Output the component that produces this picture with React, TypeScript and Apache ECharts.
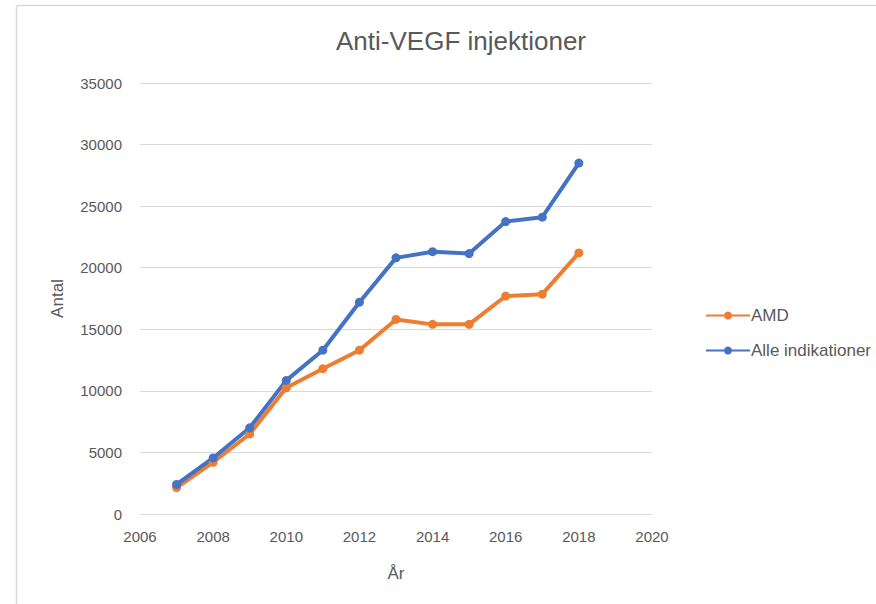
import React, { useEffect, useRef } from "react";
import * as echarts from "echarts";

const years = [2007, 2008, 2009, 2010, 2011, 2012, 2013, 2014, 2015, 2016, 2017, 2018];
const amd = [2150, 4200, 6500, 10250, 11800, 13300, 15800, 15400, 15400, 17700, 17850, 21200];
const alle = [2400, 4550, 7000, 10850, 13300, 17200, 20800, 21300, 21150, 23750, 24100, 28500];
const seriesNames = ["AMD", "Alle indikationer"];

const FONT = "'Liberation Sans Narrow', 'Liberation Sans', sans-serif";

export default function App() {
  const ref = useRef<HTMLDivElement>(null);
  useEffect(() => {
    if (!ref.current) return;
    const chart = echarts.init(ref.current, undefined, { renderer: "svg" });
    chart.setOption({
      animation: false,
      backgroundColor: "#ffffff",
      textStyle: { fontFamily: FONT },
      title: {
        text: "Anti-VEGF injektioner",
        left: 456,
        textAlign: "center",
        top: 23,
        textStyle: { fontFamily: FONT, fontSize: 26, fontWeight: "normal", color: "#595959" },
      },
      graphic: [
        { type: "line", shape: { x1: 16.5, y1: 5.5, x2: 876, y2: 5.5 }, style: { stroke: "#d9d9d9", lineWidth: 1.5 } },
        { type: "line", shape: { x1: 16.5, y1: 5.5, x2: 16.5, y2: 604 }, style: { stroke: "#d9d9d9", lineWidth: 1.5 } },
      ],
      legend: {
        orient: "vertical",
        left: 700,
        top: 302,
        itemWidth: 44,
        itemHeight: 10,
        itemGap: 18,
        data: seriesNames,
        textStyle: { fontFamily: FONT, fontSize: 17, color: "#595959", padding: [0, 0, 0, -4] },
      },
      grid: { left: 140, right: 224, top: 83, bottom: 90 },
      xAxis: {
        type: "value",
        min: 2006,
        max: 2020,
        interval: 2,
        name: "År",
        nameLocation: "middle",
        nameGap: 51,
        nameTextStyle: { fontFamily: FONT, fontSize: 17, color: "#595959" },
        axisLine: { show: true, lineStyle: { color: "#d9d9d9", width: 1 } },
        axisTick: { show: false },
        splitLine: { show: false },
        axisLabel: { fontFamily: FONT, fontSize: 15, color: "#595959", margin: 15, formatter: (v: number) => String(v) },
      },
      yAxis: {
        type: "value",
        min: 0,
        max: 35000,
        interval: 5000,
        name: "Antal",
        nameLocation: "middle",
        nameGap: 74,
        nameTextStyle: { fontFamily: FONT, fontSize: 17, color: "#595959" },
        axisLine: { show: false },
        axisTick: { show: false },
        splitLine: { show: true, lineStyle: { color: "#d9d9d9", width: 1 } },
        axisLabel: { fontFamily: FONT, fontSize: 15, color: "#595959", margin: 18, formatter: (v: number) => String(v) },
      },
      series: [
        {
          name: seriesNames[0],
          type: "line",
          data: years.map((y, i) => [y, amd[i]]),
          symbol: "circle",
          symbolSize: 9,
          lineStyle: { width: 4, color: "#ED7D31" },
          itemStyle: { color: "#ED7D31" },
        },
        {
          name: seriesNames[1],
          type: "line",
          data: years.map((y, i) => [y, alle[i]]),
          symbol: "circle",
          symbolSize: 9,
          lineStyle: { width: 4, color: "#4472C4" },
          itemStyle: { color: "#4472C4" },
        },
      ],
    });
    return () => chart.dispose();
  }, []);
  return <div ref={ref} style={{ position: "absolute", left: 0, top: 0, width: 876, height: 604 }} />;
}
